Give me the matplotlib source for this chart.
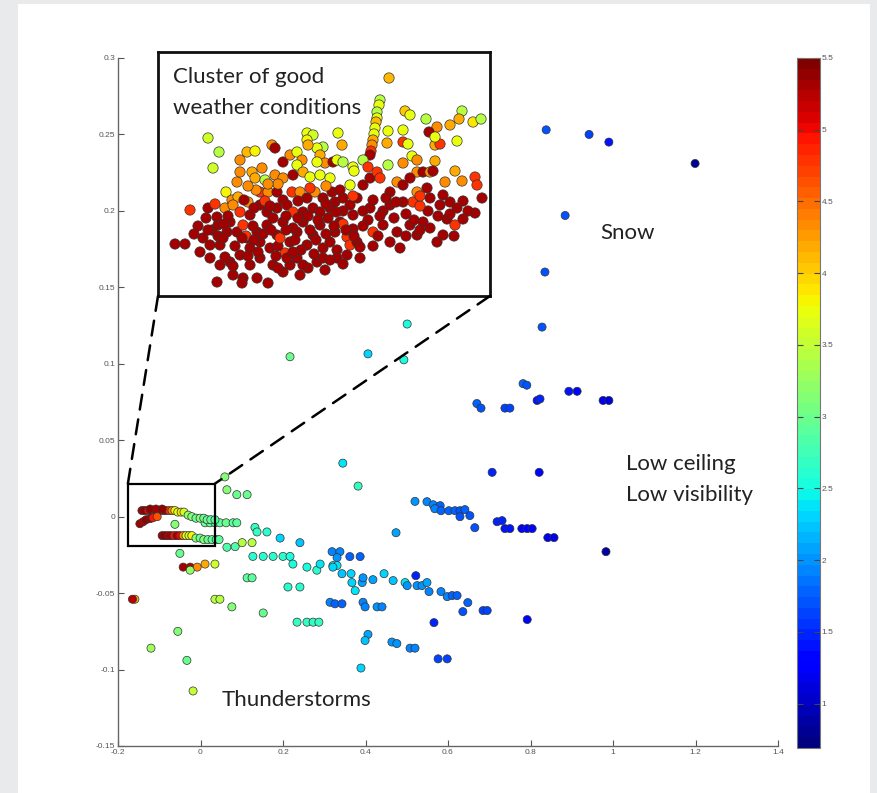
import matplotlib
matplotlib.use("Agg")
import matplotlib.pyplot as plt
from matplotlib.patches import Rectangle, ConnectionPatch
import numpy as np

# ---------------- main scatter data ----------------
snow_x = [0.838, 0.942, 0.990, 1.199, 0.884, 0.835, 0.828, 0.782, 0.791, 0.893, 0.913, 0.816, 0.823,
          0.976, 0.990, 0.670, 0.680, 0.738, 0.750]
snow_y = [0.253, 0.250, 0.245, 0.231, 0.197, 0.160, 0.124, 0.087, 0.086, 0.082, 0.082, 0.076, 0.077,
          0.076, 0.076, 0.074, 0.071, 0.071, 0.071]
snow_c = [1.7, 1.6, 1.4, 0.8, 1.7, 1.7, 1.7, 1.8, 1.7, 1.4, 1.3, 1.4, 1.5, 1.2, 1.1, 1.8, 1.7, 1.6, 1.6]

lowc_x = [0.707, 0.821, 0.520, 0.549, 0.564, 0.581, 0.568, 0.583, 0.602, 0.617, 0.629, 0.641, 0.629,
          0.653, 0.665, 0.719, 0.731, 0.738, 0.750, 0.779, 0.792, 0.804, 0.842, 0.857, 0.983]
lowc_y = [0.029, 0.029, 0.010, 0.0098, 0.0078, 0.0072, 0.0052, 0.0039, 0.0039, 0.0039, 0.0039, 0.0046, 0.0,
          0.0007, -0.0072, -0.0033, -0.0026, -0.0078, -0.0078, -0.0078, -0.0078, -0.0078, -0.0137, -0.0137, -0.0229]
lowc_c = [1.5, 1.3, 2.0, 1.9, 1.9, 1.8, 1.9, 1.8, 1.8, 1.8, 1.7, 1.8, 1.7, 1.7, 1.7, 1.5, 1.5, 1.4, 1.4,
          1.3, 1.3, 1.3, 1.2, 1.2, 0.9]

mid_x = [0.474, 0.319, 0.338, 0.331, 0.362, 0.387, 0.321, 0.331, 0.343, 0.365, 0.367, 0.375, 0.392, 0.394,
         0.418, 0.445, 0.467, 0.496, 0.501, 0.522, 0.525, 0.537, 0.549, 0.554, 0.583, 0.598, 0.610, 0.622,
         0.648, 0.636, 0.685, 0.695, 0.792, 0.566, 0.314, 0.326, 0.343, 0.394, 0.399, 0.428, 0.440, 0.406,
         0.399, 0.464, 0.476, 0.508, 0.520, 0.576, 0.598, 0.389,
         0.217, 0.406, 0.493, 0.501, 0.345, 0.382]
mid_y = [-0.0105, -0.0229, -0.0229, -0.0268, -0.0261, -0.0261, -0.032, -0.032, -0.0373, -0.0373, -0.0431,
         -0.0484, -0.0431, -0.040, -0.0412, -0.0373, -0.0418, -0.0431, -0.0451, -0.0386, -0.0451, -0.0451,
         -0.0431, -0.049, -0.049, -0.0523, -0.0516, -0.0516, -0.0562, -0.0621, -0.0614, -0.0614, -0.0673,
         -0.0693, -0.056, -0.057, -0.057, -0.056, -0.059, -0.059, -0.059, -0.077, -0.081, -0.082, -0.083,
         -0.086, -0.086, -0.093, -0.093, -0.099,
         0.1046, 0.1065, 0.1026, 0.126, 0.035, 0.020]
mid_c = [2.1, 1.9, 1.9, 2.0, 1.8, 1.8, 2.5, 2.4, 2.2, 2.3, 2.3, 2.4, 2.1, 2.0, 2.1, 2.3, 2.2, 2.4, 2.0, 1.5,
         2.0, 2.0, 2.1, 1.9, 1.9, 1.9, 1.8, 1.8, 1.8, 1.7, 1.6, 1.6, 1.3, 1.5, 1.9, 1.8, 1.8, 1.9, 1.9, 2.0,
         1.9, 2.1, 2.2, 2.0, 2.0, 1.9, 1.9, 1.6, 1.6, 2.3,
         3.0, 2.3, 2.5, 2.5, 2.4, 2.7]

left_x = [0.059, 0.064, 0.088, 0.113,
          0.127, 0.152, 0.176, 0.200, 0.217, 0.132, 0.137, 0.161, 0.193, 0.241, 0.224, 0.258, 0.282, 0.290,
          0.321, 0.212, 0.241, 0.234, 0.258, 0.273, 0.287,
          0.113, 0.125, 0.035, 0.047, 0.076, 0.152, -0.159, -0.165, -0.055, -0.120, -0.033, -0.018, -0.050,
          0.064, 0.084, 0.101, 0.125,
          -0.042, -0.025, -0.008, 0.011, 0.035, -0.025,
          0.011, 0.023, 0.035, 0.047, 0.062, 0.079, 0.088, -0.062]
left_y = [0.026, 0.0176, 0.0144, 0.0144,
          -0.026, -0.026, -0.026, -0.026, -0.026, -0.007, -0.010, -0.010, -0.014, -0.017, -0.031, -0.033,
          -0.035, -0.031, -0.033, -0.046, -0.046, -0.069, -0.069, -0.069, -0.069,
          -0.040, -0.040, -0.054, -0.054, -0.059, -0.063, -0.054, -0.054, -0.075, -0.086, -0.094, -0.114,
          -0.024,
          -0.020, -0.0196, -0.017, -0.017,
          -0.033, -0.033, -0.033, -0.031, -0.031, -0.035,
          -0.004, -0.004, -0.004, -0.004, -0.004, -0.004, -0.004, -0.005]
left_c = [3.1, 3.1, 3.0, 3.0,
          2.6, 2.6, 2.6, 2.6, 2.5, 2.7, 2.7, 2.6, 2.3, 2.2, 2.5, 2.5, 2.6, 2.4, 2.3, 2.6, 2.6, 2.7, 2.7, 2.7,
          2.7,
          2.9, 2.9, 3.4, 3.4, 3.1, 3.0, 4.2, 5.2, 3.1, 3.3, 3.0, 3.5, 3.0,
          2.8, 2.8, 3.4, 3.4,
          5.3, 5.2, 4.3, 4.2, 3.6, 3.2,
          3.0, 3.0, 2.9, 2.9, 3.0, 2.9, 2.9, 3.1]

box_x = [-0.142, -0.135, -0.127, -0.120, -0.113, -0.105, -0.098, -0.091, -0.084, -0.076,
         -0.122, -0.108, -0.093,
         -0.069, -0.062, -0.055, -0.047, -0.040,
         -0.030, -0.021, -0.011, -0.001, 0.008, 0.016, 0.025, 0.035,
         -0.147, -0.139, -0.132, -0.122, -0.115, -0.105,
         -0.093, -0.086, -0.079, -0.072, -0.064, -0.057, -0.050,
         -0.042, -0.035, -0.028, -0.021,
         -0.011, -0.001, 0.008, 0.018, 0.028, 0.038, 0.045]
box_y = [0.004, 0.004, 0.004, 0.004, 0.004, 0.004, 0.004, 0.004, 0.004, 0.004,
         0.005, 0.005, 0.005,
         0.004, 0.004, 0.003, 0.003, 0.003,
         0.001, 0.000, -0.001, -0.001, -0.001, -0.002, -0.002, -0.002,
         -0.0046, -0.0033, -0.002, -0.0013, -0.0007, 0.0,
         -0.0124, -0.0124, -0.0124, -0.0124, -0.0124, -0.0124, -0.0124,
         -0.0124, -0.0124, -0.0124, -0.0124,
         -0.014, -0.014, -0.015, -0.015, -0.015, -0.015, -0.015]
box_c = [5.3, 5.4, 5.0, 5.3, 4.9, 5.3, 5.2, 5.0, 5.3, 4.8,
         5.4, 5.3, 5.4,
         4.3, 3.8, 3.7, 3.9, 3.6,
         3.2, 3.1, 3.0, 3.1, 3.0, 3.0, 2.9, 2.9,
         5.3, 5.2, 5.4, 5.3, 4.9, 4.6,
         5.3, 5.4, 5.2, 5.3, 4.9, 5.3, 5.0,
         4.3, 3.7, 3.6, 3.8,
         3.1, 3.0, 3.1, 3.0, 2.9, 3.0, 2.9]

# ---------------- zoomed cluster data (inset units) ----------------
inset_x = [231, 222, 221, 219, 219, 218, 217, 216, 215, 214, 213, 212, 247, 252, 268, 279, 271, 304, 301, 292,
           315, 323, 230, 245, 50, 61, 55, 149, 155, 149, 180, 165, 159, 150, 184, 89, 97, 114, 117, 82,
           125, 132, 139, 144, 139, 162, 167, 175, 159, 179, 185, 195, 196, 205, 210, 229, 245, 250, 230, 245,
           254, 259, 277, 277, 282, 277, 299, 259, 265, 272, 275, 297, 287, 304, 317, 319, 324, 317, 79, 68,
           82, 94, 104, 97, 107, 117, 125, 135, 145, 152, 162, 172,
           74, 80, 90, 102, 110, 119, 125, 134, 142, 149, 157, 165, 174, 177, 185, 192, 192, 199, 205, 212,
           219, 222, 232, 239, 245, 252, 259, 269, 272, 282, 292, 299, 285, 255, 245, 232, 225, 212, 205, 195,
           185, 32, 50, 67, 75, 59, 82, 92, 102, 109, 119, 129, 135, 145, 155, 162, 172,
           17, 27, 42, 45, 54, 60, 52, 62, 69, 72, 79, 85, 89, 92, 99, 102, 109, 112, 119, 125,
           127, 132, 139, 145, 149, 155, 162, 165, 172, 177, 182, 189, 192, 179, 199, 202, 215, 225, 232, 239,
           242, 252, 259, 265, 279, 285, 289, 297, 305,
           52, 62, 72, 75, 85, 92, 99, 102, 110, 115, 125, 132, 139, 142, 150, 159, 165, 179, 189, 202,
           59, 84, 145, 129, 82, 67,
           70, 95, 115, 135, 150, 168, 120, 88, 60, 140, 210, 220, 270, 262, 195, 185, 107, 98, 120, 128,
           167, 185,
           40, 48, 36, 57, 65, 77, 84, 96, 105, 113, 122, 128, 137, 143, 152, 158, 160, 170, 176, 188,
           196, 205, 215, 222, 236, 248, 256, 262, 272, 280, 292, 296, 248, 238, 228, 178, 168, 140, 112, 96,
           86, 66, 50, 100, 118, 135, 156, 172, 90, 75, 120, 195, 182, 168, 152, 110, 90, 215, 262, 305, 310]
inset_y = [218, 196, 191, 184, 178, 174, 168, 162, 156, 151, 145, 141, 185, 181, 177, 169, 164, 185, 177, 171,
           174, 177, 165, 166, 158, 144, 128, 163, 161, 156, 163, 149, 148, 151, 151, 144, 145, 151, 148, 136,
           134, 141, 144, 136, 131, 141, 133, 134, 134, 136, 134, 129, 125, 136, 129, 153, 154, 152, 131, 133,
           140, 136, 135, 151, 152, 159, 155, 124, 124, 124, 125, 125, 114, 115, 119, 111, 98, 83, 114, 104,
           124, 124, 128, 118, 116, 121, 118, 121, 124, 119, 121, 118,
           96, 99, 94, 104, 104, 104, 96, 104, 104, 98, 104, 98, 104, 94, 98, 111, 91, 98, 111, 118,
           124, 118, 104, 114, 111, 118, 104, 108, 98, 91, 94, 88, 101, 94, 94, 91, 85, 88, 85, 81,
           85, 86, 88, 88, 91, 79, 84, 81, 91, 84, 88, 91, 84, 84, 88, 84, 88,
           52, 52, 44, 58, 66, 71, 51, 51, 64, 74, 64, 71, 58, 48, 64, 54, 71, 48, 61, 74,
           43, 54, 64, 74, 51, 61, 71, 48, 54, 64, 74, 59, 51, 46, 54, 49, 64, 71, 54, 64,
           48, 71, 61, 74, 54, 61, 77, 71, 77,
           38, 31, 34, 21, 18, 31, 18, 38, 13, 31, 24, 31, 38, 21, 28, 34, 38, 38, 41, 38,
           14, 13, 31, 38, 41, 39,
           80, 70, 78, 68, 80, 62, 50, 60, 60, 95, 76, 60, 85, 90, 67, 72, 95, 106, 112, 80,
           26, 32,
           70, 78, 62, 92, 58, 50, 58, 56, 62, 66, 58, 66, 56, 46, 66, 56, 76, 78, 70, 66,
           60, 70, 50, 80, 78, 82, 76, 66, 68, 80, 82, 60, 60, 94, 98, 84, 92, 78, 90, 88,
           96, 72, 66, 44, 40, 44, 42, 36, 40, 30, 28, 100, 106, 110, 108, 112, 110, 96, 100, 95, 85]
inset_c = [4.1, 3.4, 3.7, 3.4, 3.7, 4.1, 3.7, 3.7, 4.2, 4.3, 4.8, 5.3, 4.0, 3.7, 3.4, 4.3, 5.3, 3.4, 4.2, 4.2,
           3.9, 3.4, 3.7, 3.7, 3.6, 3.4, 3.6, 3.7, 3.6, 3.8, 3.7, 3.4, 3.7, 4.2, 4.2, 4.1, 3.8, 4.3, 5.3, 4.3,
           5.3, 4.3, 3.7, 4.3, 3.7, 4.2, 4.3, 5.3, 3.7, 3.7, 3.4, 3.7, 3.7, 3.4, 4.8, 4.2, 4.8, 3.7, 3.4, 4.3,
           3.7, 4.3, 4.2, 4.2, 4.8, 3.7, 3.7, 4.3, 5.3, 4.3, 5.3, 4.2, 4.3, 4.3, 4.8, 4.8, 5.3, 5.3, 4.3, 3.8,
           4.3, 4.2, 4.3, 4.2, 3.4, 4.3, 4.3, 5.3, 4.2, 3.7, 3.7, 3.7,
           4.3, 4.2, 4.3, 4.8, 4.3, 5.3, 5.3, 4.8, 4.3, 5.3, 4.3, 5.3, 5.3, 5.3, 5.3, 3.7, 5.3, 5.3, 5.3, 5.3,
           4.8, 4.8, 5.3, 4.3, 5.3, 5.3, 4.3, 5.3, 5.3, 5.3, 5.3, 5.3, 5.3, 4.8, 5.3, 5.3, 5.3, 5.3, 5.3, 5.3,
           5.3, 4.8, 5.3, 4.3, 4.3, 5.3, 4.8, 5.3, 5.3, 5.3, 5.3, 5.3, 4.8, 5.3, 5.3, 5.3, 5.3,
           5.3, 5.3, 5.3, 5.3, 5.3, 5.3, 5.3, 5.3, 5.3, 5.3, 5.3, 4.8, 5.3, 5.3, 5.3, 5.3, 5.3, 5.3, 5.3, 5.3,
           4.8, 5.3, 5.3, 5.3, 5.3, 5.3, 5.3, 5.3, 5.3, 5.3, 5.3, 4.8, 4.8, 5.3, 5.3, 5.3, 4.8, 5.3, 5.3, 5.3,
           5.3, 5.3, 5.3, 5.3, 5.3, 5.3, 5.3, 4.8, 5.3,
           5.3, 5.3, 5.3, 5.3, 5.3, 5.3, 5.3, 5.3, 5.3, 5.3, 5.3, 5.3, 5.3, 5.3, 5.3, 5.3, 5.3, 5.3, 5.3, 5.3,
           5.3, 5.3, 5.3, 5.3, 5.3, 5.3,
           5.3, 5.3, 5.3, 5.3, 5.3, 5.3, 5.3, 4.8, 5.3, 5.3, 5.3, 5.3, 5.3, 4.8, 5.3, 4.8, 4.8, 4.3, 4.3, 5.3,
           5.3, 5.3,
           5.3, 5.3, 5.3, 4.8, 5.3, 5.3, 5.3, 5.3, 5.3, 5.3, 4.8, 5.3, 5.3, 5.3, 5.3, 5.3, 5.3, 5.3, 5.3, 5.3,
           5.3, 5.3, 5.3, 5.3, 5.3, 5.3, 5.3, 5.3, 5.3, 5.3, 5.3, 5.3, 5.3, 5.3, 5.3, 5.3, 5.3, 5.3, 5.3, 5.3,
           5.3, 5.3, 5.3, 5.3, 5.3, 5.3, 5.3, 5.3, 5.3, 5.3, 5.3, 4.8, 5.3, 4.3, 4.8, 4.3, 4.3, 5.3, 4.8, 5.3, 5.3]

zoom_box = (-0.176, -0.019, 0.211, 0.0406)   # x0, y0, width, height of zoomed region
x_ticks = [-0.2, 0, 0.2, 0.4, 0.6, 0.8, 1, 1.2, 1.4]
x_ticklabels = ["-0.2", "0", "0.2", "0.4", "0.6", "0.8", "1", "1.2", "1.4"]
y_ticks = [-0.15, -0.1, -0.05, 0, 0.05, 0.1, 0.15, 0.2, 0.25, 0.3]
y_ticklabels = ["-0.15", "-0.1", "-0.05", "0", "0.05", "0.1", "0.15", "0.2", "0.25", "0.3"]
cb_ticks = [1, 1.5, 2, 2.5, 3, 3.5, 4, 4.5, 5, 5.5]
cb_ticklabels = ["1", "1.5", "2", "2.5", "3", "3.5", "4", "4.5", "5", "5.5"]
vmin, vmax = 0.69, 5.5

# ---------------- figure ----------------
W, H = 877, 793
fig = plt.figure(figsize=(W / 100, H / 100), dpi=100, facecolor="#e9eaec")
fig.patches.append(Rectangle((18 / W, 0), (870 - 18) / W, (H - 4) / H, transform=fig.transFigure,
                             facecolor="white", edgecolor="none", zorder=-10))

cmap = plt.get_cmap("jet", 64)
tick_font = dict(family="Liberation Sans", size=6, color="#555555")

ax = fig.add_axes([118 / W, 1 - 746 / H, 660 / W, 688 / H])
ax.set_facecolor("none")
ax.set_xlim(-0.2, 1.4)
ax.set_ylim(-0.15, 0.3)
for s in ["top", "right"]:
    ax.spines[s].set_visible(False)
for s in ["left", "bottom"]:
    ax.spines[s].set_color("#666666")
    ax.spines[s].set_linewidth(1.0)
ax.set_xticks(x_ticks)
ax.set_xticklabels(x_ticklabels, fontdict=tick_font)
ax.set_yticks(y_ticks)
ax.set_yticklabels(y_ticklabels, fontdict=tick_font)
ax.tick_params(direction="in", length=4, width=0.8, color="#555555", pad=2)

all_x = snow_x + lowc_x + mid_x + left_x + box_x
all_y = snow_y + lowc_y + mid_y + left_y + box_y
all_c = snow_c + lowc_c + mid_c + left_c + box_c
sc = ax.scatter(all_x, all_y, c=all_c, cmap=cmap, vmin=vmin, vmax=vmax, s=34,
                edgecolors="#333333", linewidths=0.5, zorder=3)

ax.add_patch(Rectangle((zoom_box[0], zoom_box[1]), zoom_box[2], zoom_box[3], fill=False,
                       edgecolor="black", linewidth=1.6, zorder=4))

txt_font = ["Lato", "DejaVu Sans"]
tsize = 16
ax.text(0.969, 0.1856, "Snow", fontsize=tsize, family=txt_font, color="#222222", va="center", ha="left")
ax.text(1.032, 0.0346, "Low ceiling", fontsize=tsize, family=txt_font, color="#222222",
        va="center", ha="left")
ax.text(1.032, 0.0144, "Low visibility", fontsize=tsize, family=txt_font, color="#222222",
        va="center", ha="left")
ax.text(0.052, -0.1196, "Thunderstorms", fontsize=tsize, family=txt_font, color="#222222",
        va="center", ha="left")

# inset
axins = fig.add_axes([158 / W, 1 - 296 / H, 332 / W, 244 / H])
axins.set_xlim(0, 332)
axins.set_ylim(0, 244)
axins.set_xticks([])
axins.set_yticks([])
for s in axins.spines.values():
    s.set_linewidth(2.0)
    s.set_color("#111111")
axins.scatter(inset_x, inset_y, c=inset_c, cmap=cmap, vmin=vmin, vmax=vmax, s=55,
              edgecolors="#333333", linewidths=0.5, zorder=3)
axins.text(0.045, 0.8975, "Cluster of good", transform=axins.transAxes,
           fontsize=tsize, family=txt_font, color="#222222", va="center", ha="left", zorder=5)
axins.text(0.045, 0.77, "weather conditions", transform=axins.transAxes,
           fontsize=tsize, family=txt_font, color="#222222", va="center", ha="left", zorder=5)

# dashed connector lines
for (fa, xb, yb) in [((0, 0), zoom_box[0], zoom_box[1] + zoom_box[3]),
                     ((1, 0), zoom_box[0] + zoom_box[2], zoom_box[1] + zoom_box[3])]:
    con = ConnectionPatch(xyA=fa, coordsA=axins.transAxes, xyB=(xb, yb), coordsB=ax.transData,
                          color="black", linewidth=1.8, linestyle=(0, (6, 4)), zorder=5)
    fig.add_artist(con)

# colorbar
cax = fig.add_axes([797 / W, 1 - 748 / H, 23 / W, 690 / H])
cb = fig.colorbar(sc, cax=cax)
cb.set_ticks(cb_ticks)
cb.set_ticklabels(cb_ticklabels)
for lab in cax.get_yticklabels():
    lab.set_family("Liberation Sans")
    lab.set_fontsize(6)
    lab.set_color("#555555")
cax.yaxis.set_ticks_position("both")
cax.yaxis.set_label_position("right")
cax.tick_params(direction="in", length=4, width=0.8, color="#444444", labelright=True, labelleft=False, pad=1)
cb.outline.set_edgecolor("#777777")
cb.outline.set_linewidth(0.8)

fig.savefig("out.png", dpi=100, facecolor=fig.get_facecolor())
